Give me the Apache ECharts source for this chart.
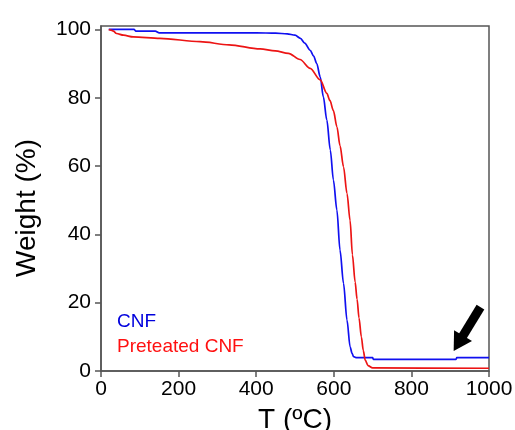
<!DOCTYPE html>
<html>
<head>
<meta charset="utf-8">
<script src="https://cdn.jsdelivr.net/npm/echarts@6/dist/echarts.min.js"></script>
<style>
  html, body { margin: 0; padding: 0; background: #fff; }
  #chart { width: 515px; height: 430px; }
</style>
</head>
<body>
<div id="chart"></div>
<script>
// Thermogravimetric curves: weight loss vs temperature
const cnfTemp = [20, 85, 90, 140, 150, 200, 300, 400, 450, 480, 500, 514, 525, 539, 548, 556, 565, 573, 582, 591, 599, 608, 616, 625, 634, 642, 647, 651, 659, 700, 702, 915, 917, 1000];
const cnfWeight = [100, 100, 99.5, 99.5, 99.0, 99.0, 99.0, 99.0, 98.9, 98.7, 98.3, 97.4, 96.0, 93.9, 92.2, 90.0, 86.1, 80.3, 73.5, 64.7, 55.9, 47.1, 35.4, 25.7, 14.9, 7.1, 5.2, 4.2, 3.9, 3.9, 3.4, 3.4, 3.9, 3.9];

const ptTemp = [20, 25, 32, 40, 58, 83, 152, 255, 330, 410, 449, 483, 513, 539, 565, 582, 590, 599, 608, 616, 625, 634, 642, 648, 655, 660, 665, 671, 676, 681, 688, 700, 1000];
const ptWeight = [100, 99.8, 99.5, 98.8, 98.3, 97.8, 97.4, 96.4, 95.5, 94.3, 93.7, 93.0, 91.2, 88.6, 85.2, 81.3, 79.2, 76.2, 71.5, 66.0, 59.8, 52.0, 44.0, 34.0, 26.0, 21.0, 15.5, 10.0, 6.0, 3.2, 1.6, 0.9, 0.8];

const xTicks = [0, 200, 400, 600, 800, 1000];
const yTicks = [0, 20, 40, 60, 80, 100];

const seriesNames = ['CNF', 'Preteated CNF'];

// arrow annotation (tail, head) in data units
const arrowTail = [978, 18.7];
const arrowHead = [921, 8.1];

const pairs = (xs, ys) => xs.map((x, i) => [x, ys[i]]);

const axisColor = '#555';
const font = '"Liberation Sans", Arial, Helvetica, sans-serif';

const chart = echarts.init(document.getElementById('chart'));
chart.setOption({
  animation: false,
  backgroundColor: '#fff',
  grid: {
    left: 101, right: 26, top: 26, bottom: 59,
    outerBoundsMode: 'none', containLabel: false,
    show: true, borderColor: axisColor, borderWidth: 1.5, backgroundColor: 'transparent'
  },
  xAxis: {
    type: 'value', min: 0, max: 1000, interval: 200,
    name: 'T (ºC)', nameLocation: 'middle', nameGap: 35,
    nameTextStyle: { fontFamily: font, fontSize: 28, color: '#000' },
    axisLine: { lineStyle: { color: axisColor, width: 1.5 } },
    axisTick: { show: true, inside: false, length: 6, customValues: xTicks, lineStyle: { color: axisColor, width: 1.5 } },
    axisLabel: { fontFamily: font, fontSize: 21, color: '#000', margin: 8, customValues: xTicks, formatter: v => String(v) },
    splitLine: { show: false }
  },
  yAxis: {
    type: 'value', min: 0, max: 101,
    axisLine: { lineStyle: { color: axisColor, width: 1.5 } },
    axisTick: { show: true, inside: false, length: 6, customValues: yTicks, lineStyle: { color: axisColor, width: 1.5 } },
    axisLabel: { fontFamily: font, fontSize: 21, color: '#000', margin: 10, customValues: yTicks, formatter: v => String(v) },
    splitLine: { show: false }
  },
  series: [
    {
      name: seriesNames[0], type: 'line', data: pairs(cnfTemp, cnfWeight),
      showSymbol: false, smooth: 0.3, smoothMonotone: 'x',
      lineStyle: { color: '#1010f0', width: 1.7 },
      markLine: {
        silent: true, symbol: ['none', 'triangle'], symbolSize: [21, 18],
        label: { show: false },
        lineStyle: { color: '#000', width: 9, type: 'solid', cap: 'butt' },
        data: [[{ coord: arrowTail }, { coord: arrowHead }]]
      }
    },
    {
      name: seriesNames[1], type: 'line', data: pairs(ptTemp, ptWeight),
      showSymbol: false, smooth: 0.3, smoothMonotone: 'x',
      lineStyle: { color: '#ec1414', width: 1.7 }
    }
  ],
  graphic: [
    {
      type: 'text', x: 27, y: 208, rotation: Math.PI / 2,
      style: { text: 'Weight (%)', fill: '#000', font: '28px ' + font, align: 'center', verticalAlign: 'middle' }
    },
    { type: 'text', left: 117, top: 312, style: { text: seriesNames[0], fill: '#0000dd', font: '19px ' + font } },
    { type: 'text', left: 117, top: 337, style: { text: seriesNames[1], fill: '#ff1010', font: '19px ' + font } }
  ]
});
</script>
</body>
</html>
